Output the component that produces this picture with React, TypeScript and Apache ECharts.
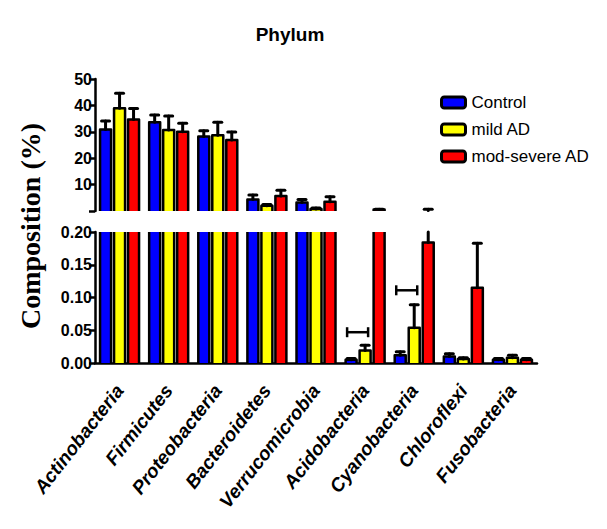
import { useEffect, useRef } from 'react';
import * as echarts from 'echarts';

const categories = [
  'Actinobacteria', 'Firmicutes', 'Proteobacteria', 'Bacteroidetes', 'Verrucomicrobia',
  'Acidobacteria', 'Cyanobacteria', 'Chloroflexi', 'Fusobacteria',
];
const groupNames = ['Control', 'mild AD', 'mod-severe AD'];
const control = [30.9, 33.6, 28.2, 4.4, 3.2, 0.005, 0.012, 0.010, 0.005];
const controlErr = [3.2, 2.8, 2.2, 1.7, 1.2, 0.002, 0.005, 0.004, 0.002];
const mild = [38.9, 30.7, 28.7, 2.0, 0.8, 0.019, 0.054, 0.006, 0.008];
const mildErr = [5.7, 5.3, 4.9, 0.5, 0.3, 0.008, 0.035, 0.002, 0.004];
const severe = [34.7, 30.0, 26.9, 5.7, 3.5, 0.6, 0.184, 0.115, 0.005];
const severeErr = [4.1, 3.2, 3.0, 2.2, 1.9, 0.1, 0.5, 0.068, 0.002];
const bracketCategories = [5, 6];
const bracketLevels = [0.047, 0.111];
const upperTicks = [0, 10, 20, 30, 40, 50];
const lowerTicks = [0, 0.05, 0.1, 0.15, 0.2];
const SEGMENT_BREAK = 0.2;

export default function App() {
  const ref = useRef<HTMLDivElement>(null);
  useEffect(() => {
    const chart = echarts.init(ref.current!, null, { renderer: 'svg' });
    const colors = ['#0000ff', '#ffff00', '#ff0000'];
    const means = [control, mild, severe];
    const errs = [controlErr, mildErr, severeErr];
    const BAR_W = 11;
    const OFFSET = 14;
    const sans = "'Liberation Sans', Arial, sans-serif";

    const makeRender = (k: number, grid: number) => (params: any, api: any) => {
      const cs = params.coordSys;
      const cat = api.value(0);
      const v = api.value(1);
      const e = api.value(2);
      const cx = api.coord([cat, 0])[0] + (k - 1) * OFFSET;
      const yBase = cs.y + cs.height;
      const top = cs.y;
      const yv = api.coord([cat, v])[1];
      const ye = api.coord([cat, v + e])[1];
      const l = cx - BAR_W / 2;
      const r = cx + BAR_W / 2;
      const children: any[] = [];
      const stroke = { fill: 'none', stroke: '#000', lineWidth: 2.5, lineJoin: 'round' };
      const showBar = grid === 1 || v > SEGMENT_BREAK;
      if (showBar) {
        const yt = Math.max(yv, top);
        children.push({ type: 'rect', shape: { x: l, y: yt, width: BAR_W, height: yBase - yt }, style: { fill: colors[k] } });
        if (yv >= top) {
          children.push({ type: 'polyline', shape: { points: [[l, yBase], [l, yv], [r, yv], [r, yBase]] }, style: stroke });
        } else {
          children.push({ type: 'polyline', shape: { points: [[l, top], [l, yBase]] }, style: stroke });
          children.push({ type: 'polyline', shape: { points: [[r, top], [r, yBase]] }, style: stroke });
        }
      }
      const errStyle = { stroke: '#000', lineWidth: 3, lineCap: 'round' };
      if (grid === 1) {
        if (yv >= top) {
          const yEnd = Math.max(ye, top);
          children.push({ type: 'line', shape: { x1: cx, y1: yv, x2: cx, y2: yEnd }, style: errStyle });
          if (ye >= top) children.push({ type: 'line', shape: { x1: cx - 4, y1: ye, x2: cx + 4, y2: ye }, style: errStyle });
        }
      } else if (v + e > SEGMENT_BREAK) {
        const yStart = Math.min(yv, yBase);
        children.push({ type: 'line', shape: { x1: cx, y1: yStart, x2: cx, y2: ye }, style: errStyle });
        children.push({ type: 'line', shape: { x1: cx - 4, y1: ye, x2: cx + 4, y2: ye }, style: errStyle });
      }
      return { type: 'group', children };
    };

    const series: any[] = [];
    [0, 1].forEach((grid) => {
      [0, 1, 2].forEach((k) => {
        series.push({
          type: 'custom',
          name: groupNames[k],
          xAxisIndex: grid,
          yAxisIndex: grid,
          itemStyle: { color: colors[k] },
          encode: { x: 0, y: 1 },
          clip: false,
          renderItem: makeRender(k, grid),
          data: categories.map((_, i) => [i, means[k][i], errs[k][i]]),
        });
      });
    });
    series.push({
      type: 'custom',
      xAxisIndex: 1,
      yAxisIndex: 1,
      encode: { x: 0, y: 1 },
      clip: false,
      renderItem: (params: any, api: any) => {
        const p = api.coord([api.value(0), api.value(1)]);
        const l = p[0] - OFFSET - 4;
        const r = p[0] + 3;
        const y = p[1];
        const st = { stroke: '#000', lineWidth: 2.5, fill: 'none' };
        return {
          type: 'group',
          children: [
            { type: 'line', shape: { x1: l, y1: y, x2: r, y2: y }, style: st },
            { type: 'line', shape: { x1: l, y1: y - 5, x2: l, y2: y + 5 }, style: st },
            { type: 'line', shape: { x1: r, y1: y - 5, x2: r, y2: y + 5 }, style: st },
          ],
        };
      },
      data: bracketCategories.map((c, i) => [c, bracketLevels[i]]),
    });

    const yAxisCommon = {
      type: 'value',
      splitLine: { show: false },
      axisLine: { show: true, lineStyle: { color: '#000', width: 2.5 } },
      axisTick: { show: true, length: 6, lineStyle: { color: '#000', width: 2.5 } },
      axisLabel: { color: '#000', fontFamily: sans, fontWeight: 'bold', fontSize: 16, margin: 3 },
    };

    chart.setOption({
      animation: false,
      backgroundColor: '#ffffff',
      title: {
        text: 'Phylum',
        left: 285,
        top: 20,
        textAlign: 'center',
        textStyle: { fontFamily: sans, fontWeight: 'bold', fontSize: 19, color: '#000' },
      },
      legend: {
        orient: 'vertical',
        left: 435,
        top: 89,
        itemWidth: 24,
        itemHeight: 11,
        itemGap: 10,
        icon: 'roundRect',
        data: groupNames,
        itemStyle: { borderColor: '#000', borderWidth: 3 },
        textStyle: { fontFamily: sans, fontSize: 17, color: '#000', padding: [0, 0, 0, 1] },
      },
      grid: [
        { left: 95, top: 79, width: 442, height: 132 },
        { left: 95, top: 232, width: 442, height: 131 },
      ],
      xAxis: [
        { type: 'category', gridIndex: 0, data: categories, show: false },
        {
          type: 'category',
          gridIndex: 1,
          data: categories,
          axisLine: { lineStyle: { color: '#000', width: 2.5 } },
          axisTick: { alignWithLabel: true, length: 7, lineStyle: { color: '#000', width: 2.5 } },
          axisLabel: {
            rotate: 52,
            interval: 0,
            margin: 24,
            color: '#000',
            fontFamily: sans,
            fontWeight: 'bold',
            fontStyle: 'italic',
            fontSize: 19,
          },
        },
      ],
      yAxis: [
        {
          ...yAxisCommon,
          gridIndex: 0,
          min: upperTicks[0],
          max: upperTicks[upperTicks.length - 1],
          interval: 10,
          axisLabel: { ...yAxisCommon.axisLabel, formatter: (v: number) => (v === 0 ? '' : String(v)) },
        },
        {
          ...yAxisCommon,
          gridIndex: 1,
          min: lowerTicks[0],
          max: lowerTicks[lowerTicks.length - 1],
          interval: 0.05,
          axisLabel: { ...yAxisCommon.axisLabel, formatter: (v: number) => v.toFixed(2) },
        },
      ],
      graphic: [
        {
          type: 'text',
          x: 30,
          y: 226,
          rotation: Math.PI / 2,
          style: {
            text: 'Composition (%)',
            font: "bold 28px 'Liberation Serif', 'Times New Roman', serif",
            fill: '#000',
            textAlign: 'center',
            textVerticalAlign: 'middle',
          },
        },
      ],
      series,
    });
    return () => chart.dispose();
  }, []);
  return <div ref={ref} style={{ position: 'fixed', left: 0, top: 0, width: 607, height: 529 }} />;
}
